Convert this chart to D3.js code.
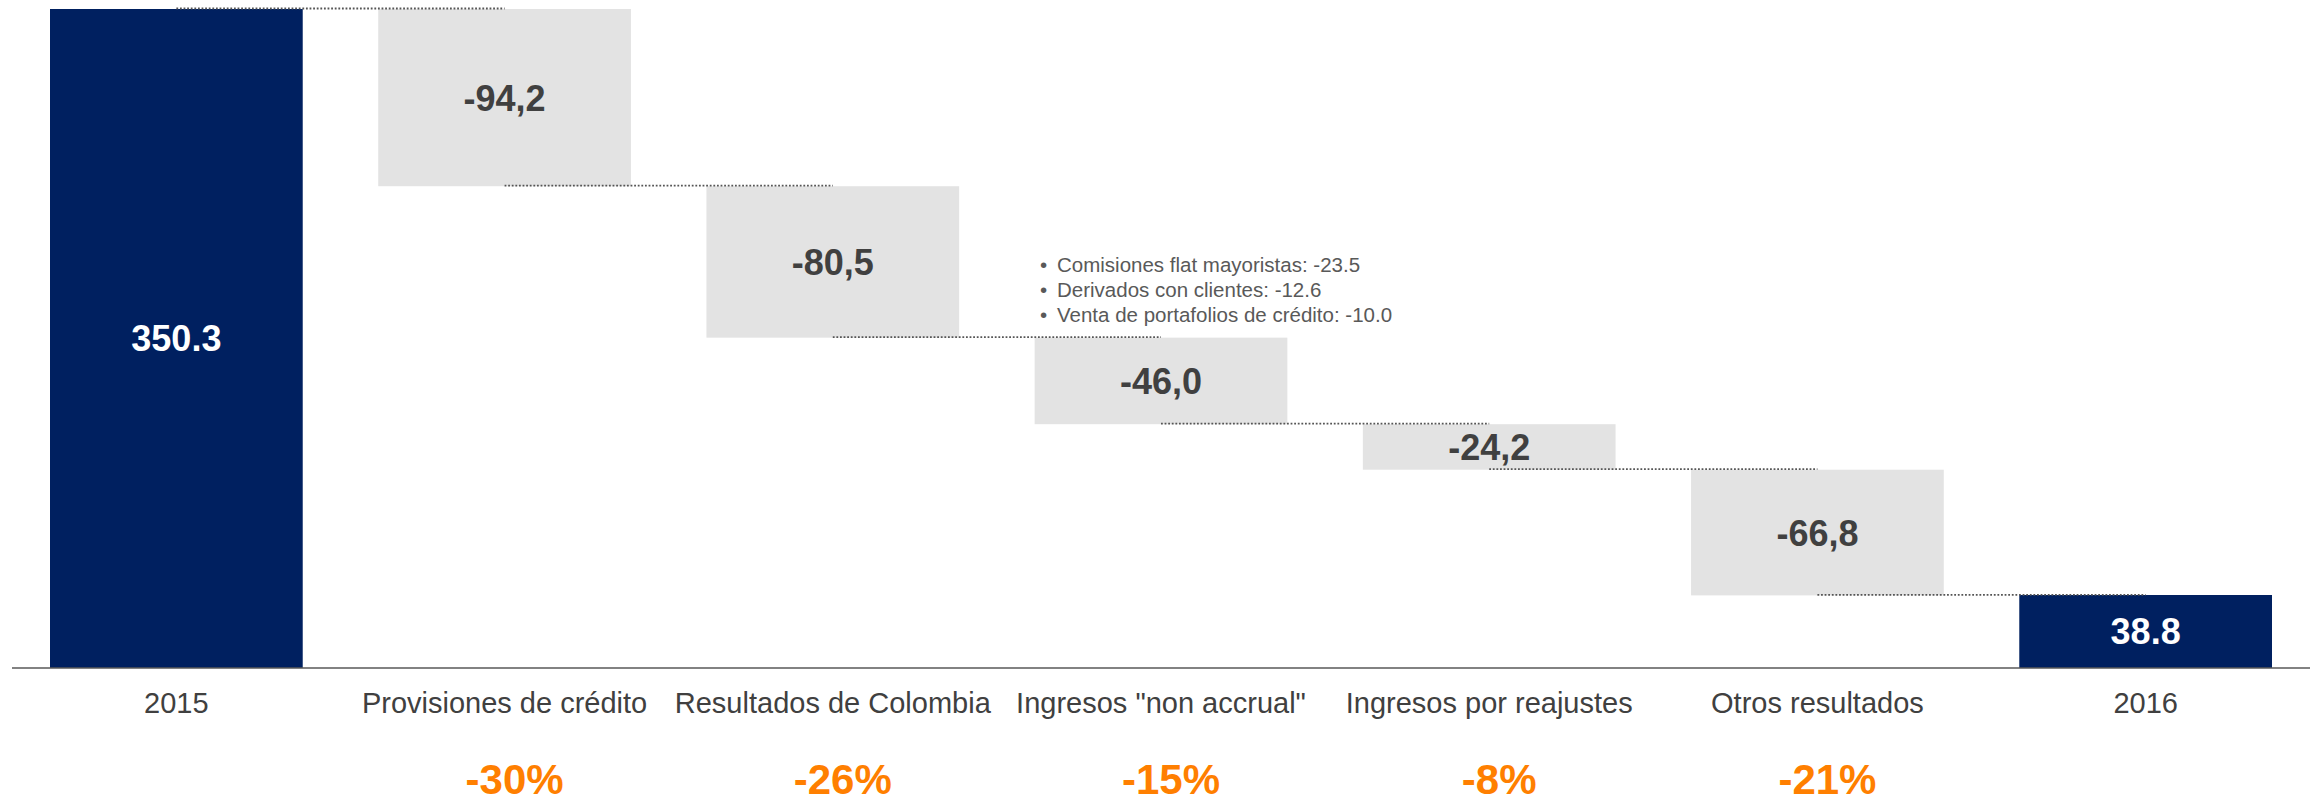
<!DOCTYPE html>
<html>
<head>
<meta charset="utf-8">
<script src="https://cdn.jsdelivr.net/npm/d3@7"></script>
<style>
  html, body { margin: 0; padding: 0; background: #ffffff; }
  svg { display: block; font-family: "Liberation Sans", Arial, Helvetica, sans-serif; }
</style>
</head>
<body>
<svg id="chart" width="2318" height="804"></svg>
<script>
// ---- data ----
const categories = ["2015", "Provisiones de crédito", "Resultados de Colombia", "Ingresos \"non accrual\"", "Ingresos por reajustes", "Otros resultados", "2016"];
const startValue = 350.3;
const deltas = [-94.2, -80.5, -46.0, -24.2, -66.8];
const endValue = 38.8;
const percentLabels = ["-30%", "-26%", "-15%", "-8%", "-21%"];
const noteLines = ["Comisiones flat mayoristas: -23.5", "Derivados con clientes: -12.6", "Venta de portafolios de crédito: -10.0"];

// ---- formatting (hyphen-minus) ----
const locDot = d3.formatLocale({ decimal: ".", thousands: "", grouping: [3], currency: ["", ""], minus: "-" });
const locComma = d3.formatLocale({ decimal: ",", thousands: ".", grouping: [3], currency: ["", ""], minus: "-" });
const fmtTotal = locDot.format(".1f");
const fmtDelta = locComma.format(".1f");

// ---- build waterfall steps ----
const steps = [];
steps.push({ cat: categories[0], y0: 0, y1: startValue, type: "total", label: fmtTotal(startValue) });
let running = startValue;
deltas.forEach((d, i) => {
  const next = running + d;
  steps.push({ cat: categories[i + 1], y0: next, y1: running, type: "delta", label: fmtDelta(d), pct: percentLabels[i] });
  running = next;
});
steps.push({ cat: categories[categories.length - 1], y0: 0, y1: endValue, type: "total", label: fmtTotal(endValue) });

// ---- layout ----
const svg = d3.select("#chart");
const axisY = 668;
const x = d3.scaleBand().domain(categories).range([50, 2272]).paddingInner(0.23).paddingOuter(0);
const y = d3.scaleLinear().domain([0, startValue]).range([axisY, 9]);

const navy = "#002060";
const grey = "#e3e3e3";

// bars
svg.append("g").selectAll("rect").data(steps).join("rect")
  .attr("x", d => x(d.cat))
  .attr("width", x.bandwidth())
  .attr("y", d => y(d.y1))
  .attr("height", d => y(d.y0) - y(d.y1))
  .attr("fill", d => d.type === "total" ? navy : grey);

// connectors
const conns = [];
for (let i = 0; i < steps.length - 1; i++) {
  const level = steps[i].type === "total" ? steps[i].y1 : steps[i].y0;
  conns.push({ a: steps[i].cat, b: steps[i + 1].cat, v: level });
}
svg.append("g").selectAll("line").data(conns).join("line")
  .attr("x1", d => x(d.a) + x.bandwidth() / 2)
  .attr("x2", d => x(d.b) + x.bandwidth() / 2)
  .attr("y1", d => y(d.v) - 0.5)
  .attr("y2", d => y(d.v) - 0.5)
  .attr("stroke", "#555555")
  .attr("stroke-width", 1.8)
  .attr("stroke-dasharray", "1.8,1.8");

// bar labels
svg.append("g").selectAll("text").data(steps).join("text")
  .attr("x", d => x(d.cat) + x.bandwidth() / 2)
  .attr("y", d => (y(d.y0) + y(d.y1)) / 2)
  .attr("dy", "0.36em")
  .attr("text-anchor", "middle")
  .attr("font-size", 36)
  .attr("font-weight", "bold")
  .attr("fill", d => d.type === "total" ? "#ffffff" : "#404040")
  .text(d => d.label);

// x axis
svg.append("line")
  .attr("x1", 12).attr("x2", 2310)
  .attr("y1", axisY).attr("y2", axisY)
  .attr("stroke", "#595959").attr("stroke-width", 1.5);

const ax = svg.append("g")
  .attr("transform", `translate(0,${axisY})`)
  .call(d3.axisBottom(x).tickSize(0).tickPadding(24));
ax.select(".domain").remove();
ax.selectAll("text")
  .attr("font-size", 29)
  .attr("font-family", "\"Liberation Sans\", Arial, sans-serif")
  .attr("fill", "#404040");

// percent labels
svg.append("g").selectAll("text").data(steps.filter(d => d.pct)).join("text")
  .attr("x", d => x(d.cat) + x.bandwidth() / 2 + 10)
  .attr("y", 794)
  .attr("text-anchor", "middle")
  .attr("font-size", 42)
  .attr("font-weight", "bold")
  .attr("fill", "#ff7f00")
  .text(d => d.pct);

// annotation bullets
const note = svg.append("g");
noteLines.forEach((t, i) => {
  note.append("text")
    .attr("x", 1040).attr("y", 272 + i * 25)
    .attr("font-size", 20.5).attr("fill", "#595959")
    .text("•");
  note.append("text")
    .attr("x", 1057).attr("y", 272 + i * 25)
    .attr("font-size", 20.5).attr("fill", "#595959")
    .text(t);
});
</script>
</body>
</html>
